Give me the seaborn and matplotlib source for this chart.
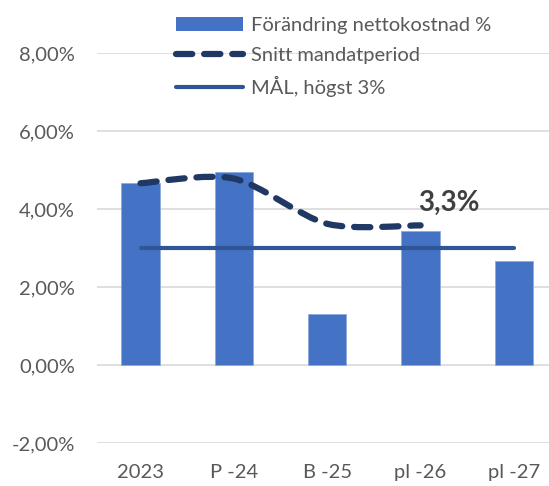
import matplotlib
matplotlib.use('Agg')
import matplotlib.pyplot as plt
import numpy as np
import pandas as pd
import seaborn as sns
from matplotlib.path import Path
from matplotlib.patches import PathPatch, Patch
from matplotlib.lines import Line2D

# ─── Data ───
categories = ['2023', 'P -24', 'B -25', 'pl -26', 'pl -27']
netto_change = [4.67, 4.96, 1.30, 3.43, 2.67]          # Förändring nettokostnad %
snitt_mandat = [4.66, 4.78, 3.62, 3.58]                # Snitt mandatperiod (first four)
goal = [3.0, 3.0, 3.0, 3.0, 3.0]                       # MÅL, högst 3%
snitt_label = '3,3%'

BAR_COLOR = '#4472C4'
DASH_COLOR = '#1F3864'
GOAL_COLOR = '#2F5597'
GRID_COLOR = '#D9D9D9'
TEXT_COLOR = '#595959'

sns.set_theme(style='white')
plt.rcParams['font.family'] = ['Lato', 'DejaVu Sans']

fig = plt.figure(figsize=(5.49, 4.86), dpi=100)
ax = fig.add_axes([97 / 549, 1 - 443 / 486, 1 - 97 / 549, (443 - 53) / 486])

df = pd.DataFrame({'kategori': categories, 'värde': netto_change})
sns.barplot(data=df, x='kategori', y='värde', color=BAR_COLOR, width=0.41,
            saturation=1, edgecolor='#8FAADC', linewidth=0.6, ax=ax, zorder=2)

# Mål-linje
ax.plot(range(len(goal)), goal, color=GOAL_COLOR, linewidth=3,
        solid_capstyle='round', zorder=3)

# Utjämnad streckad linje (Catmull-Rom -> Bezier, lite lägre spänning)
pts = np.column_stack([np.arange(len(snitt_mandat)), snitt_mandat])
ext = np.vstack([pts[0], pts, pts[-1]])
verts = [tuple(pts[0])]
codes = [Path.MOVETO]
for i in range(1, len(ext) - 2):
    p0, p1, p2, p3 = ext[i - 1], ext[i], ext[i + 1], ext[i + 2]
    c1 = p1 + (p2 - p0) / 7
    c2 = p2 - (p3 - p1) / 7
    verts += [tuple(c1), tuple(c2), tuple(p2)]
    codes += [Path.CURVE4] * 3
patch = PathPatch(Path(verts, codes), facecolor='none', edgecolor=DASH_COLOR,
                  linewidth=4.5, linestyle=(0, (2.6, 1.9)), capstyle='round', zorder=4)
ax.add_patch(patch)

ax.text(2.97, 4.15, snitt_label, ha='left', va='center', fontsize=20,
        fontweight='bold', color='#404040', zorder=5)

ax.set_ylim(-2, 8)
ax.set_xlim(-0.466, 4.375)
ax.set_yticks([-2, 0, 2, 4, 6, 8])
ax.set_yticklabels([f'{v:.2f}%'.replace('.', ',') for v in [-2, 0, 2, 4, 6, 8]])
ax.yaxis.grid(True, color=GRID_COLOR, linewidth=1.2, zorder=0)
ax.set_axisbelow(True)
for s in ax.spines.values():
    s.set_visible(False)
ax.set_xlabel('')
ax.set_ylabel('')
ax.tick_params(axis='both', length=0, labelsize=14.5, colors=TEXT_COLOR)
ax.tick_params(axis='y', pad=16)
ax.tick_params(axis='x', pad=15)
ax.patch.set_alpha(0)

handles = [
    Patch(facecolor=BAR_COLOR, edgecolor='none'),
    Line2D([], [], color=DASH_COLOR, linewidth=4.5, linestyle=(0, (2.6, 1.9)),
           dash_capstyle='round'),
    Line2D([], [], color=GOAL_COLOR, linewidth=3, solid_capstyle='round'),
]
labels = ['Förändring nettokostnad %', 'Snitt mandatperiod', 'MÅL, högst 3%']
fig.legend(handles, labels, loc='upper left', bbox_to_anchor=(162 / 549, 1 - 3 / 486),
           frameon=False, fontsize=14.5, labelcolor=TEXT_COLOR, handlelength=3.3,
           handleheight=0.7, handletextpad=0.4, labelspacing=0.62, borderpad=0.2)

fig.savefig('out.png', dpi=100)
